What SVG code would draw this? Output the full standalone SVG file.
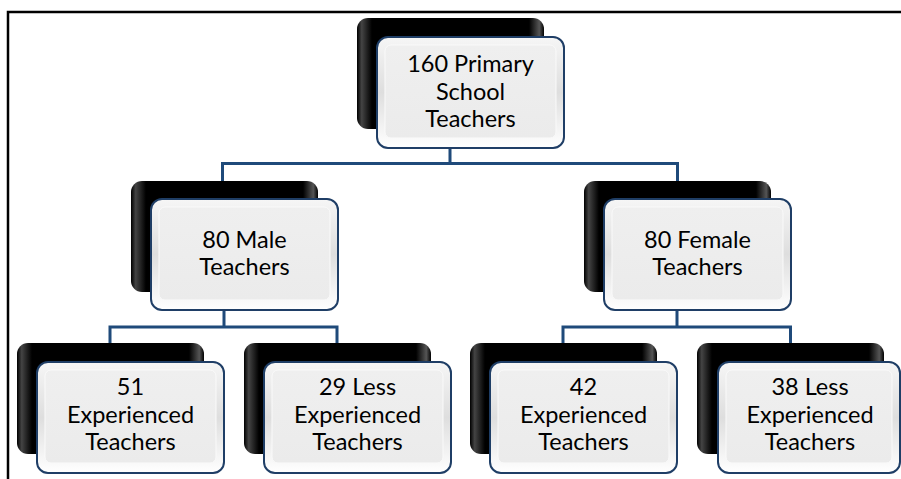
<svg xmlns="http://www.w3.org/2000/svg" width="901" height="479" viewBox="0 0 901 479">
<defs>
<linearGradient id="gloss" x1="0" y1="0" x2="1" y2="0">
<stop offset="0" stop-color="#000"/>
<stop offset="0.025" stop-color="#444"/>
<stop offset="0.08" stop-color="#000"/>
<stop offset="0.92" stop-color="#000"/>
<stop offset="0.975" stop-color="#555"/>
<stop offset="1" stop-color="#000"/>
</linearGradient>
<linearGradient id="bevel" x1="0" y1="0" x2="0" y2="1">
<stop offset="0" stop-color="#f6f6f6"/>
<stop offset="0.5" stop-color="#dedede"/>
<stop offset="1" stop-color="#ffffff"/>
</linearGradient>
<linearGradient id="face" x1="0" y1="0" x2="0" y2="1">
<stop offset="0" stop-color="#efefef"/>
<stop offset="1" stop-color="#ebebeb"/>
</linearGradient>
</defs>
<style>
.back{fill:url(#gloss);}
.front{fill:url(#bevel);stroke:#1f3e66;stroke-width:2;}
.inner{fill:url(#face);stroke:#fafafa;stroke-width:1;}
.conn{fill:none;stroke:#1f4a7a;stroke-width:3;}
.lbl{font-family:Lato,"Liberation Sans",sans-serif;font-size:23.5px;fill:#000;text-anchor:middle;}
.frame{fill:none;stroke:#000;stroke-width:2.5;}
</style>
<path class="frame" d="M8 479 V12 H901"/>
<g id="connectors">
<path class="conn" d="M450 130 V163.5 H222.5 V181 M450 163.5 H677.5 V181"/>
<path class="conn" d="M224 292 V327 H110 V343 M224 327 H337 V343"/>
<path class="conn" d="M677 292 V327 H563 V343 M677 327 H790.5 V343"/>
</g>
<g id="node-root">
<rect class="back" x="357" y="18" width="187" height="111" rx="11"/>
<rect class="front" x="377" y="37" width="187" height="111" rx="11"/>
<rect class="inner" x="385" y="45" width="171" height="93" rx="6"/>
<text class="lbl" x="470.5" y="72">160 Primary</text>
<text class="lbl" x="470.5" y="100">School</text>
<text class="lbl" x="470.5" y="127">Teachers</text>
</g>
<g id="node-male">
<rect class="back" x="131" y="181" width="187" height="111" rx="11"/>
<rect class="front" x="151" y="199" width="187" height="111" rx="11"/>
<rect class="inner" x="159" y="207" width="171" height="93" rx="6"/>
<text class="lbl" x="244.5" y="248">80 Male</text>
<text class="lbl" x="244.5" y="275">Teachers</text>
</g>
<g id="node-female">
<rect class="back" x="584" y="181" width="187" height="111" rx="11"/>
<rect class="front" x="604" y="199" width="187" height="111" rx="11"/>
<rect class="inner" x="612" y="207" width="171" height="93" rx="6"/>
<text class="lbl" x="697.5" y="248">80 Female</text>
<text class="lbl" x="697.5" y="275">Teachers</text>
</g>
<g id="node-male-exp">
<rect class="back" x="17" y="343" width="187" height="111" rx="11"/>
<rect class="front" x="37" y="362" width="187" height="111" rx="11"/>
<rect class="inner" x="45" y="370" width="171" height="93" rx="6"/>
<text class="lbl" x="130.5" y="395">51</text>
<text class="lbl" x="130.5" y="423">Experienced</text>
<text class="lbl" x="130.5" y="450">Teachers</text>
</g>
<g id="node-male-less">
<rect class="back" x="244" y="343" width="187" height="111" rx="11"/>
<rect class="front" x="264" y="362" width="187" height="111" rx="11"/>
<rect class="inner" x="272" y="370" width="171" height="93" rx="6"/>
<text class="lbl" x="357.5" y="395">29 Less</text>
<text class="lbl" x="357.5" y="423">Experienced</text>
<text class="lbl" x="357.5" y="450">Teachers</text>
</g>
<g id="node-female-exp">
<rect class="back" x="470" y="343" width="187" height="111" rx="11"/>
<rect class="front" x="490" y="362" width="187" height="111" rx="11"/>
<rect class="inner" x="498" y="370" width="171" height="93" rx="6"/>
<text class="lbl" x="583.5" y="395">42</text>
<text class="lbl" x="583.5" y="423">Experienced</text>
<text class="lbl" x="583.5" y="450">Teachers</text>
</g>
<g id="node-female-less">
<rect class="back" x="697" y="343" width="187" height="111" rx="11"/>
<rect class="front" x="718" y="362" width="182" height="111" rx="11"/>
<rect class="inner" x="726" y="370" width="166" height="93" rx="6"/>
<text class="lbl" x="810" y="395">38 Less</text>
<text class="lbl" x="810" y="423">Experienced</text>
<text class="lbl" x="810" y="450">Teachers</text>
</g>
</svg>
